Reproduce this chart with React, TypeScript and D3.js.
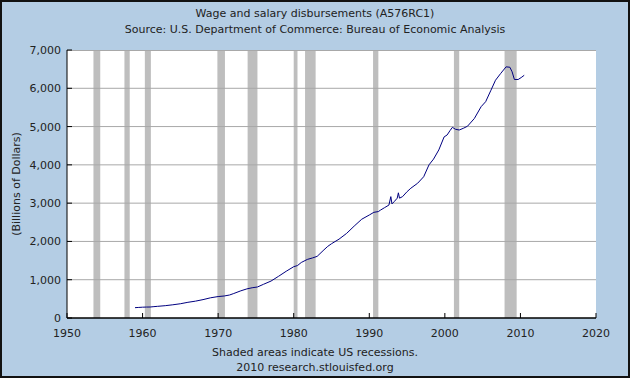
import React from "react";
import * as d3 from "d3";

const title = "Wage and salary disbursements (A576RC1)";
const subtitle = "Source: U.S. Department of Commerce: Bureau of Economic Analysis";
const yLabel = "(Billions of Dollars)";
const footer1 = "Shaded areas indicate US recessions.";
const footer2 = "2010 research.stlouisfed.org";

const xTicks = [1950, 1960, 1970, 1980, 1990, 2000, 2010, 2020];
const yTicks = [0, 1000, 2000, 3000, 4000, 5000, 6000, 7000];

const recessionStarts = [1953.5, 1957.6, 1960.3, 1969.9, 1973.9, 1980.0, 1981.5, 1990.5, 2001.2, 2007.9];
const recessionEnds = [1954.4, 1958.3, 1961.1, 1970.9, 1975.2, 1980.5, 1982.9, 1991.2, 2001.9, 2009.5];

const years = [
  1959.0, 1959.5, 1960.0, 1960.5, 1961.0, 1961.5, 1962.0, 1963.0, 1964.0, 1965.0,
  1966.0, 1967.0, 1968.0, 1969.0, 1970.0, 1970.8, 1971.5, 1972.0, 1973.0, 1973.8,
  1974.5, 1975.2, 1976.0, 1977.0, 1978.0, 1979.0, 1980.0, 1980.5, 1981.0, 1981.8,
  1982.5, 1983.1, 1984.0, 1984.5, 1985.0, 1986.0, 1987.0, 1988.0, 1989.0, 1990.0,
  1990.6, 1991.2, 1991.5, 1992.0, 1992.6, 1992.85, 1993.0, 1993.3, 1993.7, 1993.85,
  1994.0, 1994.4, 1995.0, 1995.5, 1996.4, 1997.2, 1997.9, 1998.5, 1999.2, 1999.9,
  2000.3, 2000.7, 2001.0, 2001.4, 2001.9, 2002.5, 2003.0, 2003.9, 2004.8, 2005.4,
  2006.1, 2006.7, 2007.4, 2008.1, 2008.6, 2008.9, 2009.2, 2009.7, 2010.1, 2010.5,
];
const values = [
  270, 276, 282, 286, 287, 297, 305, 322, 345, 372,
  410, 440, 480, 528, 560, 575, 600, 635, 710, 760,
  790, 810, 880, 965, 1090, 1220, 1340, 1370, 1450, 1530,
  1570, 1610, 1780, 1870, 1940, 2060, 2210, 2400, 2580, 2690,
  2760, 2780, 2820, 2880, 2950, 3170, 2980, 3040, 3130, 3270,
  3130, 3170, 3300, 3390, 3520, 3690, 4000, 4150, 4390, 4730,
  4780, 4900, 4980, 4930, 4910, 4960, 5010, 5210, 5520, 5650,
  5950, 6210, 6390, 6560, 6550, 6430, 6230, 6230, 6280, 6340,
];

const W = 630;
const H = 378;
const left = 67;
const right = 596;
const top = 50;
const bottom = 318;
const font = "'DejaVu Sans', Verdana, sans-serif";

export default function App() {
  const x = d3.scaleLinear().domain([1950, 2020]).range([left, right]);
  const y = d3.scaleLinear().domain([0, 7000]).range([bottom, top]);
  const pts: [number, number][] = years.map((yr, i) => [yr, values[i]]);
  const line = d3
    .line<[number, number]>()
    .x((d) => x(d[0]))
    .y((d) => y(d[1]));
  const path = line(pts) || "";

  return (
    <svg
      width={W}
      height={H}
      style={{ position: "absolute", left: 0, top: 0 }}
      xmlns="http://www.w3.org/2000/svg"
    >
      <rect x={0} y={0} width={W} height={H} fill="#B4CDE4" />
      <rect x={1} y={1} width={W - 2} height={H - 2} fill="none" stroke="#111" strokeWidth={2} />
      <text x={W / 2} y={17} textAnchor="middle" fontFamily={font} fontSize={11} fill="#222">
        {title}
      </text>
      <text x={W / 2} y={33} textAnchor="middle" fontFamily={font} fontSize={11} fill="#222">
        {subtitle}
      </text>

      <rect x={left} y={top} width={right - left} height={bottom - top} fill="#fff" />
      {recessionStarts.map((s, i) => (
        <rect
          key={"r" + i}
          x={x(s)}
          y={top}
          width={x(recessionEnds[i]) - x(s)}
          height={bottom - top}
          fill="#BEBEBE"
        />
      ))}
      {yTicks.slice(1, -1).map((t) => (
        <line key={"g" + t} x1={left} x2={right} y1={y(t)} y2={y(t)} stroke="#A8A8A8" strokeWidth={1} />
      ))}
      <line x1={left} x2={right} y1={top + 0.5} y2={top + 0.5} stroke="#A8A8A8" strokeWidth={1} />
      <path d={path} fill="none" stroke="#000080" strokeWidth={1} />

      <line x1={left} x2={left} y1={top} y2={bottom} stroke="#000" strokeWidth={1} />
      <line x1={left} x2={right} y1={bottom} y2={bottom} stroke="#000" strokeWidth={1.5} />
      {yTicks.map((t) => (
        <g key={"y" + t}>
          <line x1={left} x2={left + 5} y1={y(t)} y2={y(t)} stroke="#000" strokeWidth={1} />
          <text
            x={left - 6}
            y={y(t) + 4}
            textAnchor="end"
            fontFamily={font}
            fontSize={11}
            fill="#222"
          >
            {d3.format(",")(t)}
          </text>
        </g>
      ))}
      {xTicks.map((t) => (
        <g key={"x" + t}>
          <line x1={x(t)} x2={x(t)} y1={bottom} y2={bottom - 5} stroke="#000" strokeWidth={1} />
          <text x={x(t)} y={337} textAnchor="middle" fontFamily={font} fontSize={11} fill="#222">
            {t}
          </text>
        </g>
      ))}
      <text
        transform={`translate(20,${(top + bottom) / 2}) rotate(-90)`}
        textAnchor="middle"
        fontFamily={font}
        fontSize={11}
        fill="#222"
      >
        {yLabel}
      </text>
      <text x={W / 2} y={356} textAnchor="middle" fontFamily={font} fontSize={11} fill="#222">
        {footer1}
      </text>
      <text x={W / 2} y={371} textAnchor="middle" fontFamily={font} fontSize={11} fill="#222">
        {footer2}
      </text>
    </svg>
  );
}
